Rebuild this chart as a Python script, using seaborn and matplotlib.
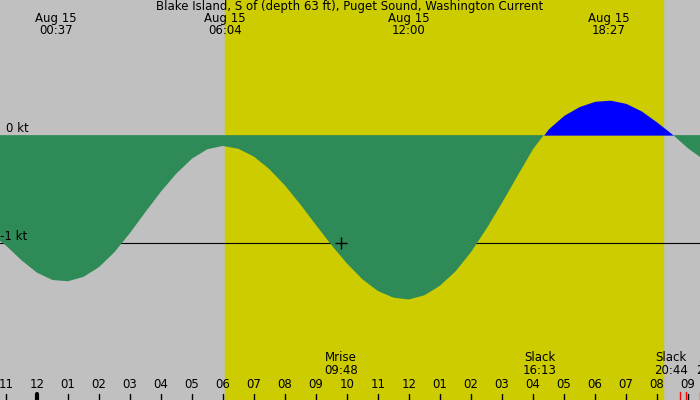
import numpy as np
import pandas as pd
import matplotlib
matplotlib.use("Agg")
import matplotlib.pyplot as plt
import seaborn as sns

# hours from midnight Aug 15, current speed in knots
hours = np.arange(-1.5, 22.0, 0.5)
speed = [-0.88, -1.02, -1.16, -1.28, -1.35, -1.36, -1.32, -1.23, -1.09, -0.91,
         -0.71, -0.52, -0.35, -0.21, -0.12, -0.09, -0.12, -0.19, -0.31, -0.46,
         -0.64, -0.83, -1.02, -1.19, -1.34, -1.45, -1.51, -1.53, -1.49, -1.40,
         -1.27, -1.09, -0.87, -0.63, -0.38, -0.12, 0.07, 0.19, 0.27, 0.32,
         0.33, 0.30, 0.23, 0.12, 0.01, -0.12, -0.26]

daylight = (6.07, 20.2)
top_times = [0.62, 6.07, 12.0, 18.45]
top_labels = ["00:37", "06:04", "12:00", "18:27"]
events_t = [9.8, 16.22, 20.45, 21.8]
events_name = ["Mrise", "Slack", "Slack", "Mset"]
events_time = ["09:48", "16:13", "20:44", "21:52"]
hour_ticks = np.arange(-1, 22)
red_ticks = [20.73, 20.95, 21.4]

df = pd.DataFrame({"t": hours, "kt": speed})

sns.set_theme(style="white")
plt.rcParams["font.family"] = ["DejaVu Sans"]
plt.rcParams["text.color"] = "black"
fig = plt.figure(figsize=(7, 4), dpi=100)
ax = fig.add_axes([0, 0, 1, 1])
ax.set_facecolor("#c0c0c0")
ax.set_xlim(-1.19, 21.39)
ax.set_ylim(-2.45, 1.25)

ax.axvspan(*daylight, color="#cccc00", zorder=0)
ax.axhline(-1, color="black", lw=0.8, zorder=1)

# smooth the read-off samples for drawing only
tt = np.linspace(df["t"].min(), df["t"].max(), 800)
vv = np.interp(tt, df["t"], pd.Series(df["kt"]).rolling(3, center=True, min_periods=1).mean())
vv = 0.5 * vv + 0.5 * np.interp(tt, df["t"], df["kt"])
ax.fill_between(tt, vv, 0, where=vv <= 0, interpolate=True, color="#2e8b57", lw=0, zorder=2)
ax.fill_between(tt, vv, 0, where=vv >= 0, interpolate=True, color="#0000ff", lw=0, zorder=2)
ax.plot([events_t[0]], [-1.0], marker="+", color="black", markersize=8,
        markeredgewidth=1, linestyle="", zorder=3)

fs = 8.5
ax.text(0.5, 1.0, "Blake Island, S of (depth 63 ft), Puget Sound, Washington Current",
        transform=ax.transAxes, ha="center", va="top", fontsize=fs)
for x, lab in zip(top_times, top_labels):
    ax.text(x, 1.14, "Aug 15\n" + lab, ha="center", va="top", fontsize=fs, linespacing=0.95)
ax.text(-1.0, 0.0, "0 kt", ha="left", va="bottom", fontsize=fs)
ax.text(-1.19, -1.0, "-1 kt", ha="left", va="bottom", fontsize=fs)
for x, n, tm in zip(events_t, events_name, events_time):
    ax.text(x, -2.0, n + "\n" + tm, ha="center", va="top", fontsize=fs, linespacing=0.95)

for h in hour_ticks:
    ax.text(h, -2.31, "%02d" % ((h - 1) % 12 + 1), ha="center", va="center", fontsize=fs)
    ax.plot([h, h], [-2.45, -2.39], color="black", lw=1 if h != 0 else 3, zorder=3)
for r in red_ticks:
    ax.plot([r, r], [-2.45, -2.38], color="red", lw=1, zorder=3)

ax.set_xticks([])
ax.set_yticks([])
for s in ax.spines.values():
    s.set_visible(False)
fig.savefig("out.png", dpi=100)
